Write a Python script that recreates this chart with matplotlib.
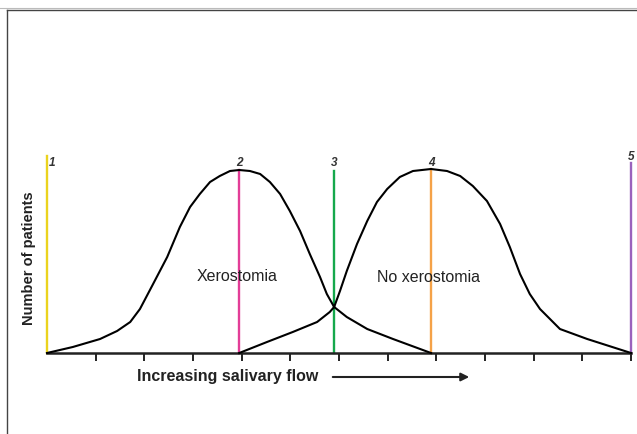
import matplotlib
matplotlib.use("Agg")
import matplotlib.pyplot as plt
from matplotlib import font_manager
from matplotlib.lines import Line2D

# --- data (x in tick units along the flow axis, y = relative number of patients)
xero_x = [0, 0.53, 1.09, 1.44, 1.71, 1.91, 2.18, 2.47, 2.73, 2.94, 3.14, 3.35, 3.55, 3.76,
          3.95, 4.17, 4.38, 4.58, 4.79, 4.99, 5.20, 5.40, 5.61, 5.75, 5.90, 6.16, 6.58,
          7.11, 7.89]
xero_y = [0, 6, 14, 22, 31, 44, 69, 96, 126, 146, 159, 171, 177, 182,
          183, 182, 179, 171, 159, 142, 122, 99, 76, 59, 46, 36, 24,
          14, 0]

noxero_x = [3.95, 4.52, 5.05, 5.55, 5.81, 5.90, 6.02, 6.16, 6.37, 6.58, 6.78, 6.99, 7.25,
            7.52, 7.89, 8.22, 8.49, 8.75, 9.04, 9.31, 9.51, 9.72, 9.92, 10.13, 10.54,
            11.10, 12]
noxero_y = [0, 11, 21, 31, 41, 46, 62, 82, 109, 132, 151, 164, 176,
            182, 184, 182, 177, 167, 152, 129, 106, 79, 59, 44, 24,
            14, 0]

marker_labels = ["1", "2", "3", "4", "5"]
marker_x = [0, 3.95, 5.90, 7.89, 12]
marker_top = [197, 183, 182, 184, 190]
marker_colors = ["#EBD31E", "#E33D97", "#15A84C", "#F5A247", "#9A62BC"]

tick_pos = list(range(1, 13))

INK = "#222222"
names = {f.name for f in font_manager.fontManager.ttflist}
FONT = "Liberation Sans" if "Liberation Sans" in names else "DejaVu Sans"
plt.rcParams["font.family"] = [FONT, "DejaVu Sans"]

fig = plt.figure(figsize=(6.37, 4.35), dpi=100)
ax = fig.add_axes([47 / 637, 81 / 435, 584 / 637, 200 / 435])
ax.set_xlim(0, 12)
ax.set_ylim(0, 200)

ax.plot(xero_x, xero_y, color="black", lw=1.5, clip_on=False, zorder=3,
        solid_joinstyle="round")
ax.plot(noxero_x, noxero_y, color="black", lw=1.5, clip_on=False, zorder=3,
        solid_joinstyle="round")

for lab, x, top, c in zip(marker_labels, marker_x, marker_top, marker_colors):
    ax.plot([x, x], [0, top], color=c, lw=1.7, clip_on=False, zorder=2)
    lx = x + 0.1 if lab == "1" else x
    ly = 197 if lab == "5" else 191
    ax.text(lx, ly, lab, ha="center", va="center",
            fontsize=8.5, fontweight="bold", fontstyle="italic", color="#333333")

ax.text(3.91, 77, "Xerostomia", ha="center", va="center", fontsize=11.5, color=INK)
ax.text(7.83, 76, "No xerostomia", ha="center", va="center", fontsize=11.5, color=INK)

for side in ("top", "right", "left"):
    ax.spines[side].set_visible(False)
ax.spines["bottom"].set_linewidth(1.8)
ax.spines["bottom"].set_color(INK)
ax.set_yticks([])
ax.set_xticks(tick_pos)
ax.set_xticklabels([])
ax.tick_params(axis="x", direction="out", length=5.5, width=1.4, color=INK)

fig.text(137 / 637, 1 - 377 / 435, "Increasing salivary flow", ha="left", va="center",
         fontsize=11.5, fontweight="bold", color=INK)
fig.text(29 / 637, 1 - 258 / 435, "Number of patients", ha="center", va="center",
         rotation=90, fontsize=10.5, fontweight="bold", color=INK)
ax.annotate("", xy=(472, 57), xytext=(330, 57), xycoords="figure pixels",
            textcoords="figure pixels",
            arrowprops=dict(arrowstyle="-|>", lw=1.5, color=INK, mutation_scale=12))

# outer frame of the original figure panel
fig.add_artist(Line2D([7 / 637, 7 / 637], [-0.1, 1 - 11 / 435], color="#444444", lw=1))
fig.add_artist(Line2D([7 / 637, 1.1], [1 - 11 / 435, 1 - 11 / 435], color="#444444", lw=1))
fig.add_artist(Line2D([0, 1.1], [1 - 9 / 435, 1 - 9 / 435], color="#BBBBBB", lw=0.8))

fig.savefig("out.png", dpi=100)
